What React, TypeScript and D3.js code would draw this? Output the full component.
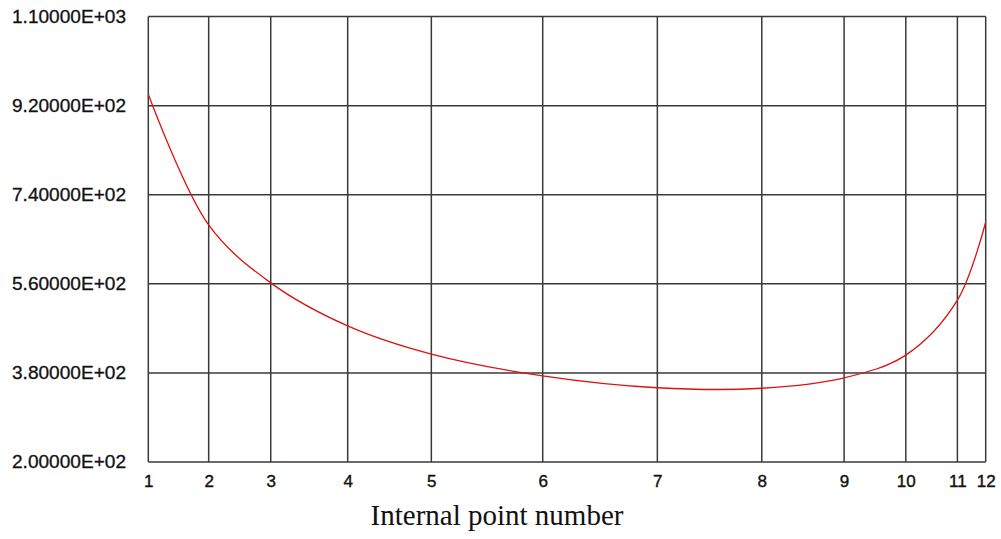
import React from "react";
import * as d3 from "d3";

// Internal point numbers and their relative positions along the axis (0..1)
const pointNumbers = [1, 2, 3, 4, 5, 6, 7, 8, 9, 10, 11, 12];
const pointPositions = [0, 0.0721, 0.1462, 0.2381, 0.338, 0.471, 0.6079, 0.7326, 0.8309, 0.9046, 0.9662, 1.0];
// Values at each internal point
const pointValues = [943, 679, 562, 475, 418, 374, 350, 349, 370, 416, 527, 685];
// Y axis ticks
const yTicks = [200, 380, 560, 740, 920, 1100];
const yLabels = ["2.00000E+02", "3.80000E+02", "5.60000E+02", "7.40000E+02", "9.20000E+02", "1.10000E+03"];
const xTitle = "Internal point number";

const W = 1001;
const H = 539;
const left = 148.3;
const right = 985.7;
const top = 16.6;
const bottom = 462;

export default function App() {
  const x = d3.scaleLinear().domain([0, 1]).range([left, right]);
  const y = d3.scaleLinear().domain([200, 1100]).range([bottom, top]);
  const data = pointPositions.map((p, i) => ({ p, v: pointValues[i] }));
  const line = d3
    .line<{ p: number; v: number }>()
    .x((d) => x(d.p))
    .y((d) => y(d.v))
    .curve(d3.curveCatmullRom.alpha(0.5));

  const gridColor = "#3a3a3a";
  return (
    <div style={{ position: "absolute", left: 0, top: 0 }}>
      <svg width={W} height={H} style={{ display: "block", background: "#fff" }}>
        {yTicks.map((t) => (
          <line key={"h" + t} x1={left} x2={right} y1={y(t)} y2={y(t)} stroke={gridColor} strokeWidth={1.5} />
        ))}
        {pointPositions.map((p, i) => (
          <line key={"v" + i} x1={x(p)} x2={x(p)} y1={top} y2={bottom} stroke={gridColor} strokeWidth={1.5} />
        ))}
        <path d={line(data) || ""} fill="none" stroke="#e01010" strokeWidth={1.3} />
        {yTicks.map((t, i) => (
          <text
            key={"yl" + t}
            x={126}
            y={y(t) + 1.5}
            textAnchor="end"
            dominantBaseline="middle"
            fontFamily="Liberation Sans, Arial, sans-serif"
            fontSize={18.5}
            textLength={114}
            lengthAdjust="spacingAndGlyphs"
            fill="#111"
            stroke="#111"
            strokeWidth={0.3}
          >
            {yLabels[i]}
          </text>
        ))}
        {pointPositions.map((p, i) => (
          <text
            key={"xl" + i}
            x={x(p) + 0.5}
            y={487}
            textAnchor="middle"
            fontFamily="Liberation Sans, Arial, sans-serif"
            fontSize={17}
            fill="#111"
            stroke="#111"
            strokeWidth={0.4}
          >
            {pointNumbers[i]}
          </text>
        ))}
        <text
          x={497}
          y={525}
          textAnchor="middle"
          fontFamily="Liberation Serif, Times New Roman, serif"
          fontSize={29}
          fill="#111"
        >
          {xTitle}
        </text>
      </svg>
    </div>
  );
}
